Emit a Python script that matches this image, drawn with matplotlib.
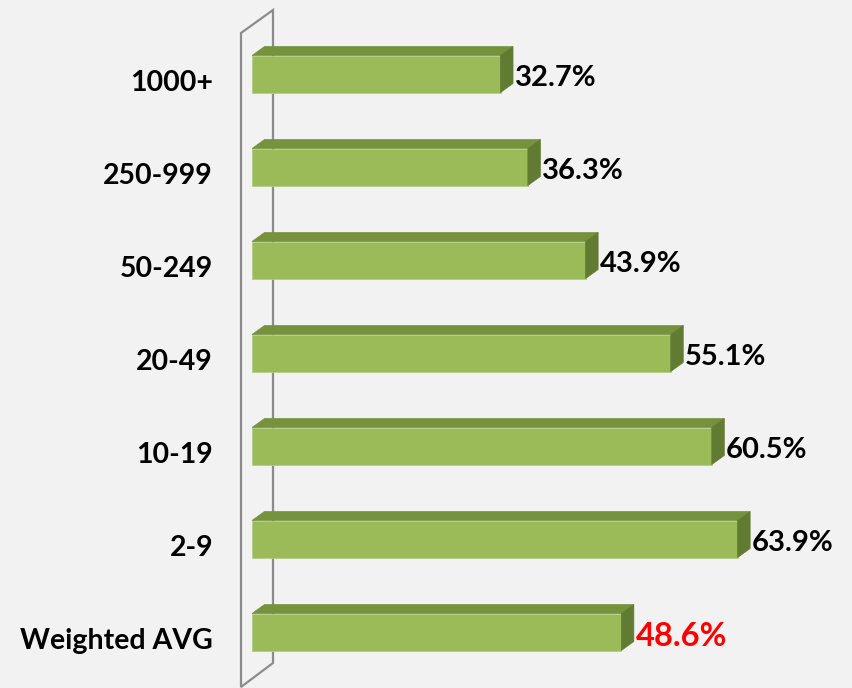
import matplotlib.pyplot as plt
from matplotlib.patches import Polygon

categories = ["Weighted AVG", "2-9", "10-19", "20-49", "50-249", "250-999", "1000+"]
values = [48.6, 63.9, 60.5, 55.1, 43.9, 36.3, 32.7]
labels = ["48.6%", "63.9%", "60.5%", "55.1%", "43.9%", "36.3%", "32.7%"]

# pixel scale of the reference: 7.6 px per %, 93 px per category
px_x = 7.6
px_y = 93.0
W, H = 852, 688
x0_px, y0_px = 252, 632  # where value 0 / first category sit

fig = plt.figure(figsize=(W / 100, H / 100), dpi=100)
fig.patch.set_facecolor("#f2f2f2")
ax = fig.add_axes([0, 0, 1, 1])
ax.set_facecolor("#f2f2f2")
ax.set_xlim(-x0_px / px_x, (W - x0_px) / px_x)
ax.set_ylim((y0_px - H) / px_y, y0_px / px_y)
ax.axis("off")

bar_h = 37 / px_y
dx = 12.5 / px_x
dy = 9 / px_y

front = "#9bbb59"
top = "#76923c"
side = "#627b33"

# back wall (outline only)
wx0, wx1 = -11 / px_x, 21 / px_x
wy_top0, wy_top1 = (y0_px - 33) / px_y, (y0_px - 10) / px_y
wy_bot0, wy_bot1 = (y0_px - 687) / px_y, (y0_px - 663) / px_y
ax.add_patch(Polygon([(wx0, wy_bot0), (wx0, wy_top0), (wx1, wy_top1), (wx1, wy_bot1)],
                     closed=True, fill=False, edgecolor="#8c8c8c", lw=1.6, zorder=1))

for i, (cat, v, lab) in enumerate(zip(categories, values, labels)):
    yb = i - bar_h / 2
    yt = i + bar_h / 2
    ax.barh(i, v, height=bar_h, color=front, edgecolor="#b5cc86", lw=0.6, zorder=3)
    ax.add_patch(Polygon([(0, yt), (dx, yt + dy), (v + dx, yt + dy), (v, yt)],
                         closed=True, facecolor=top, edgecolor=top, lw=0.5, zorder=3))
    ax.add_patch(Polygon([(v, yb), (v, yt), (v + dx, yt + dy), (v + dx, yb + dy)],
                         closed=True, facecolor=side, edgecolor=side, lw=0.5, zorder=3))
    ax.text(-39 / px_x, i - 9 / px_y, cat, ha="right", va="center",
            fontsize=20.5, fontweight="bold", family="Lato", color="black")
    if i == 0:
        ax.text(v + dx + 0.2, i - 5 / px_y, lab, ha="left", va="center",
                fontsize=23.5, fontweight="bold", family="Lato", color="#ff0000")
    else:
        ax.text(v + dx + 0.2, i - 4 / px_y, lab, ha="left", va="center",
                fontsize=21, fontweight="bold", family="Lato", color="black")

fig.savefig("out.png", dpi=100, facecolor=fig.get_facecolor())
